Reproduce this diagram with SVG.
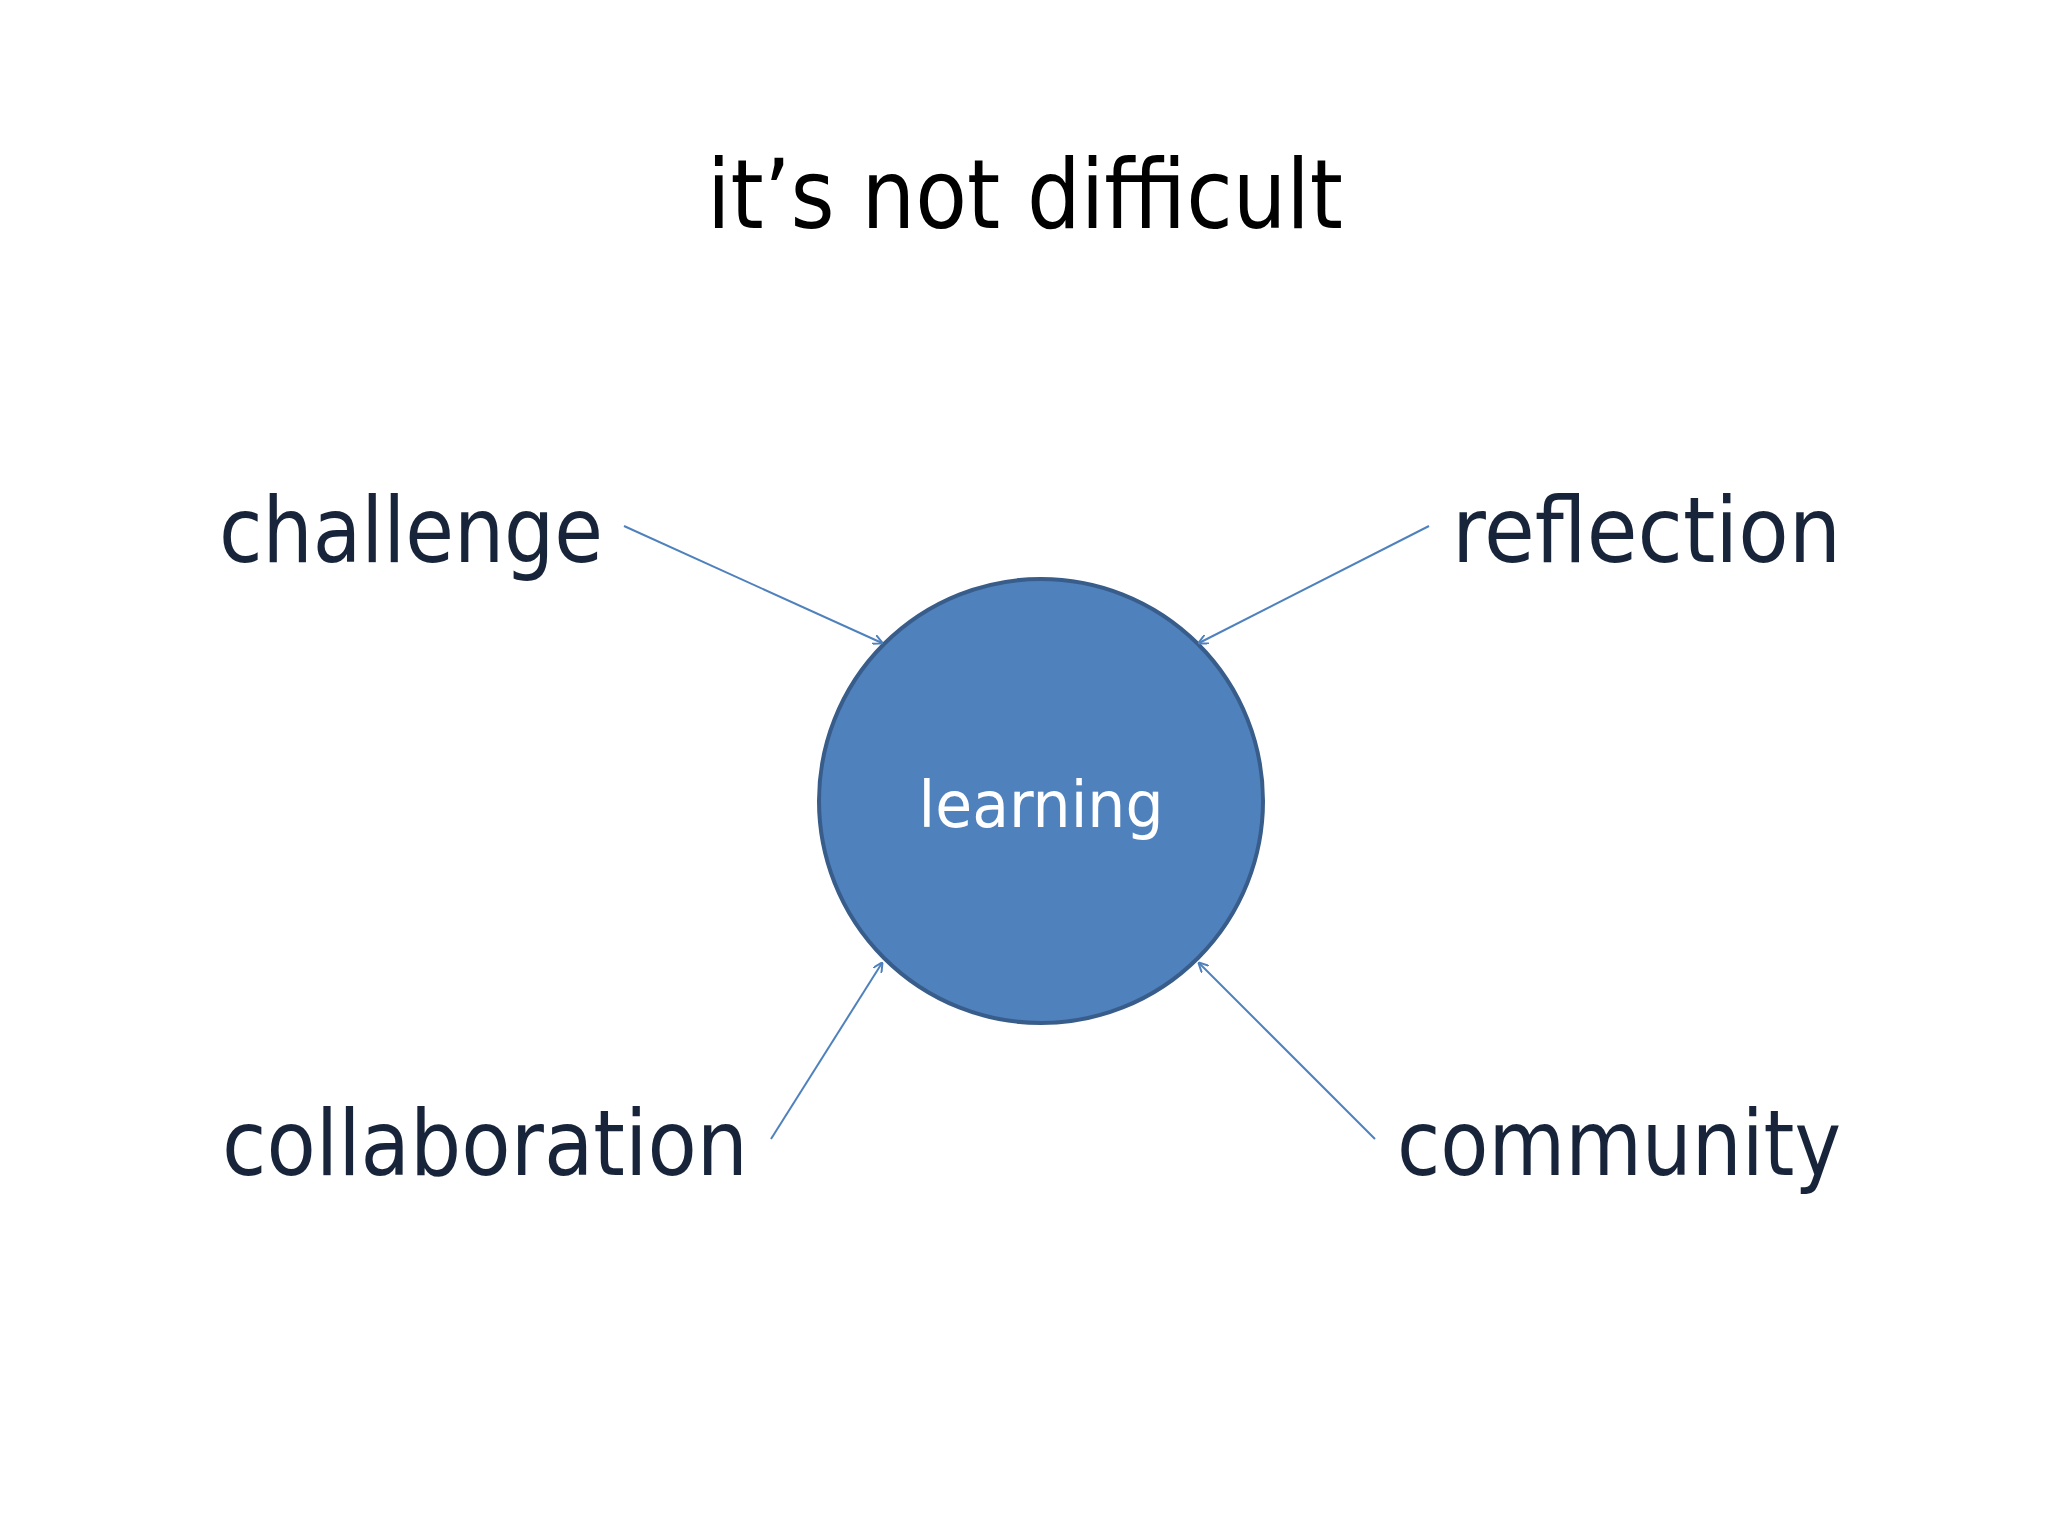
<svg xmlns="http://www.w3.org/2000/svg" width="2048" height="1536" viewBox="0 0 2048 1536">
<style>
.lbl{font-family:"DejaVu Sans","Liberation Sans",sans-serif;font-size:90px;fill:#17243a}
.conn{stroke:#4F81BD;stroke-width:2;fill:none;marker-end:url(#ah)}
</style>
<defs>
<marker id="ah" viewBox="0 0 10 10" refX="9" refY="5" markerWidth="10" markerHeight="10" markerUnits="userSpaceOnUse" orient="auto">
<path d="M0,0 L10,5 L0,10" fill="none" stroke="#4F81BD" stroke-width="2"/>
</marker>
</defs>
<rect width="2048" height="1536" fill="#fff"/>
<text x="1025" y="228" text-anchor="middle" style="font-family:'DejaVu Sans','Liberation Sans',sans-serif;font-size:96px;fill:#000" textLength="636" lengthAdjust="spacingAndGlyphs">it’s not difficult</text>
<g id="learning">
<circle cx="1041" cy="801" r="222" fill="#4F81BD" stroke="#385D8A" stroke-width="4"/>
<text x="1041" y="827" text-anchor="middle" style="font-family:'DejaVu Sans','Liberation Sans',sans-serif;font-size:64px;fill:#fff" textLength="245" lengthAdjust="spacingAndGlyphs">learning</text>
</g>
<g id="challenge"><text class="lbl" x="219" y="562" textLength="384" lengthAdjust="spacingAndGlyphs">challenge</text></g>
<g id="reflection"><text class="lbl" x="1452" y="562" textLength="389" lengthAdjust="spacingAndGlyphs">reflection</text></g>
<g id="collaboration"><text class="lbl" x="222" y="1175" textLength="526" lengthAdjust="spacingAndGlyphs">collaboration</text></g>
<g id="community"><text class="lbl" x="1397" y="1175" textLength="444" lengthAdjust="spacingAndGlyphs">community</text></g>
<g id="connectors">
<line class="conn" x1="624" y1="526" x2="882" y2="643"/>
<line class="conn" x1="1429" y1="526" x2="1199" y2="643"/>
<line class="conn" x1="771" y1="1139" x2="882" y2="963"/>
<line class="conn" x1="1375" y1="1139" x2="1199" y2="963"/>
</g>
</svg>
